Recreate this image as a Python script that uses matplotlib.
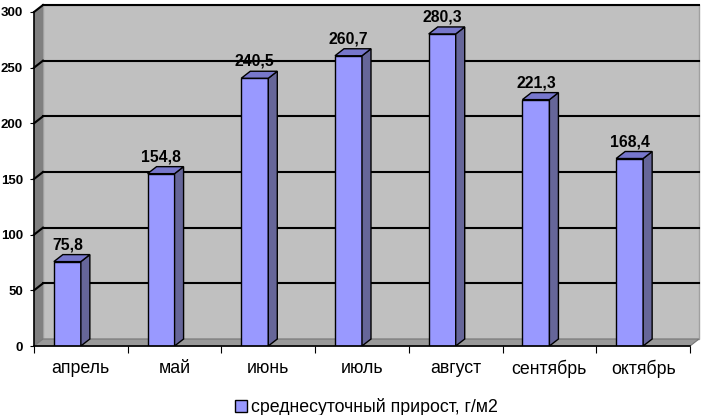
import matplotlib
matplotlib.use('Agg')
import matplotlib.pyplot as plt
from matplotlib.patches import Polygon, Rectangle, Patch

# data
months = ['апрель', 'май', 'июнь', 'июль', 'август', 'сентябрь', 'октябрь']
values = [75.8, 154.8, 240.5, 260.7, 280.3, 221.3, 168.4]
labels = ['75,8', '154,8', '240,5', '260,7', '280,3', '221,3', '168,4']
yticks = [0, 50, 100, 150, 200, 250, 300]
series_name = 'среднесуточный прирост, г/м2'

plt.rcParams['font.family'] = ['Liberation Sans', 'DejaVu Sans']

W, H = 706, 415
fig = plt.figure(figsize=(W / 100, H / 100), dpi=100)
fig.patch.set_facecolor('white')

# front frame in pixels
x_left, x_right = 34, 690
y_bot, y_top = 346, 12
ax = fig.add_axes([x_left / W, 1 - y_bot / H, (x_right - x_left) / W, (y_bot - y_top) / H])
ax.set_xlim(0, len(months))
ax.set_ylim(0, 300)
ax.patch.set_visible(False)

# 3d depth offset (in data units)
px_x = len(months) / (x_right - x_left)
px_y = 300 / (y_bot - y_top)
dx = 9 * px_x
dy = 7 * px_y
n = len(months)

# back wall
ax.add_patch(Rectangle((dx, dy), n, 300, facecolor='#c0c0c0', edgecolor='#a0a0a0',
                       lw=1, zorder=0, clip_on=False))
# side wall
ax.add_patch(Polygon([(0, 0), (dx, dy), (dx, 300 + dy), (0, 300)], closed=True,
                     facecolor='#808080', edgecolor='none', zorder=0.5, clip_on=False))
# gridlines
for t in yticks:
    if t == 0:
        continue
    ax.plot([dx, n + dx], [t + dy, t + dy], color='black', lw=1.5, zorder=1, clip_on=False)
    ax.plot([0, dx], [t, t + dy], color='black', lw=1.5, zorder=1, clip_on=False)
# floor
ax.add_patch(Polygon([(0, 0), (n, 0), (n + dx, dy), (dx, dy)], closed=True,
                     facecolor='#999999', edgecolor='#777777', lw=0.8, zorder=1.5, clip_on=False))

# bars
bw = 27 * px_x
for i, v in enumerate(values):
    x1 = i + 0.5
    x0 = x1 - bw
    ax.bar(x0, v, width=bw, align='edge', color='#9999ff', edgecolor='black', lw=1, zorder=3)
    ax.add_patch(Polygon([(x1, 0), (x1 + dx, dy), (x1 + dx, v + dy), (x1, v)], closed=True,
                         facecolor='#666699', edgecolor='black', lw=1, zorder=3))
    ax.add_patch(Polygon([(x0, v), (x1, v), (x1 + dx, v + dy), (x0 + dx, v + dy)], closed=True,
                         facecolor='#7777cc', edgecolor='black', lw=1, zorder=3))
    ax.annotate(labels[i], (x0 + bw / 2, v), xytext=(0, 12.2), textcoords='offset points',
                ha='center', va='center', fontsize=11.3, fontweight='bold', zorder=5)

# axes
for s in ['top', 'right']:
    ax.spines[s].set_visible(False)
ax.spines['left'].set_linewidth(1.2)
ax.spines['bottom'].set_linewidth(1.2)
ax.spines['left'].set_zorder(4)
ax.spines['bottom'].set_zorder(4)
ax.set_yticks(yticks)
ax.set_yticklabels([str(t) for t in yticks], fontsize=9.5, fontweight='bold')
ax.tick_params(axis='y', direction='out', length=3, pad=5)
ax.set_xticks(range(n + 1))
ax.set_xticklabels([])
ax.set_xticks([i + 0.5 for i in range(n)], minor=True)
ax.set_xticklabels(months, minor=True, fontsize=12.8)
ax.tick_params(axis='x', which='major', direction='out', length=5)
ax.tick_params(axis='x', which='minor', length=0, pad=10)

fig.legend(handles=[Patch(facecolor='#9999ff', edgecolor='black', label=series_name)],
           loc='center', bbox_to_anchor=(366 / W, 1 - 407 / H), frameon=False,
           fontsize=12.8, handlelength=0.7, handleheight=0.7, handletextpad=0.2)

fig.savefig('out.png', dpi=100)
